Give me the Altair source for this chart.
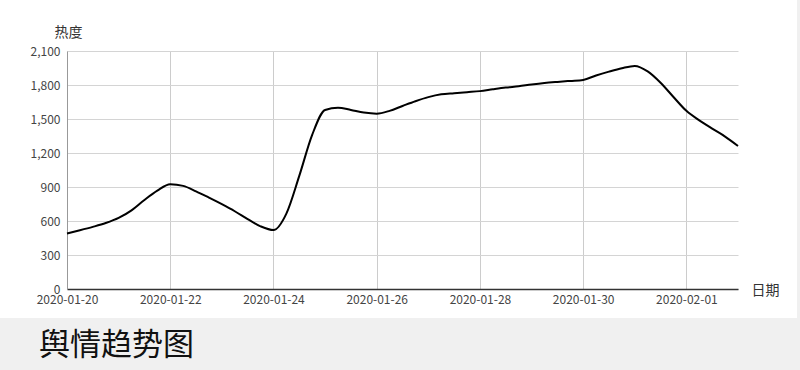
import altair as alt
import pandas as pd

# 6-hourly samples from 2020-01-20 00:00 to 2020-02-02 00:00
times = pd.date_range("2020-01-20 00:00", "2020-02-02 00:00", freq="6h")
heat = [
    490, 518, 548, 582, 627, 694, 786, 868, 924, 910, 862, 806, 748,
    686, 617, 553, 520, 665, 998, 1360, 1580, 1600, 1580, 1557, 1547, 1572,
    1615, 1657, 1693, 1718, 1728, 1737, 1746, 1762, 1777, 1789, 1804, 1817,
    1827, 1836, 1845, 1884, 1918, 1948, 1968, 1920, 1820, 1694, 1572, 1488,
    1415, 1345, 1262,
]
tick_dates = ["2020-01-20", "2020-01-22", "2020-01-24", "2020-01-26",
              "2020-01-28", "2020-01-30", "2020-02-01"]
y_ticks = [0, 300, 600, 900, 1200, 1500, 1800, 2100]
title_text = "舆情趋势图"

df = pd.DataFrame({"t": times, "v": heat})

def dt(s):
    y, m, d = map(int, s.split("-"))
    return alt.DateTime(year=y, month=m, date=d)

FONT = "Noto Sans CJK SC"
W, H = 671, 238
GRAY = "#f0f0f0"

band = alt.Chart(pd.DataFrame({"a": [0]})).mark_rect(color=GRAY).encode(
    x=alt.value(-67), x2=alt.value(733), y=alt.value(267), y2=alt.value(319)
)
strip = alt.Chart(pd.DataFrame({"a": [0]})).mark_rect(color=GRAY).encode(
    x=alt.value(730), x2=alt.value(733), y=alt.value(-51), y2=alt.value(267)
)

title = alt.Chart(pd.DataFrame({"s": [title_text]})).mark_text(
    font=FONT, fontSize=31, color="#111", align="left", baseline="middle"
).encode(text="s:N", x=alt.value(-28), y=alt.value(295))

line = alt.Chart(df).mark_line(
    color="black", strokeWidth=2, interpolate="monotone"
).encode(
    x=alt.X(
        "t:T",
        scale=alt.Scale(domain=[dt("2020-01-20"), dt("2020-02-02")], nice=False),
        axis=alt.Axis(
            values=[dt(s) for s in tick_dates],
            format="%Y-%m-%d",
            title="日期",
            titleX=698, titleY=1, titleAlign="center", titleBaseline="middle",
            titleFontWeight="normal", titleFontSize=14, titleColor="#333",
            titleFont=FONT,
            labelFont=FONT, labelFontSize=12, labelColor="#444",
            labelPadding=5, ticks=False,
            domainColor="#333", domainWidth=1.5,
            grid=True, gridColor="#cccccc",
            labelOverlap=False, labelFlush=False,
        ),
    ),
    y=alt.Y(
        "v:Q",
        scale=alt.Scale(domain=[0, 2100], nice=False),
        axis=alt.Axis(
            values=y_ticks, format=",d",
            title="热度", titleAngle=0, titleX=1, titleY=-19,
            titleAlign="center", titleBaseline="middle",
            titleFontWeight="normal", titleFontSize=14, titleColor="#333",
            titleFont=FONT,
            labelFont=FONT, labelFontSize=12, labelColor="#444",
            labelPadding=7, ticks=False,
            domainColor="#999",
            grid=True, gridColor="#d4d4d4",
        ),
    ),
)

chart = alt.layer(band, strip, line, title).properties(
    width=W, height=H,
    autosize=alt.AutoSizeParams(type="none"),
    padding={"left": 67, "top": 51, "right": 62, "bottom": 81},
    background="white",
).configure_view(stroke=None)

chart.save("out.html", embed_options={"renderer": "svg", "actions": False})
